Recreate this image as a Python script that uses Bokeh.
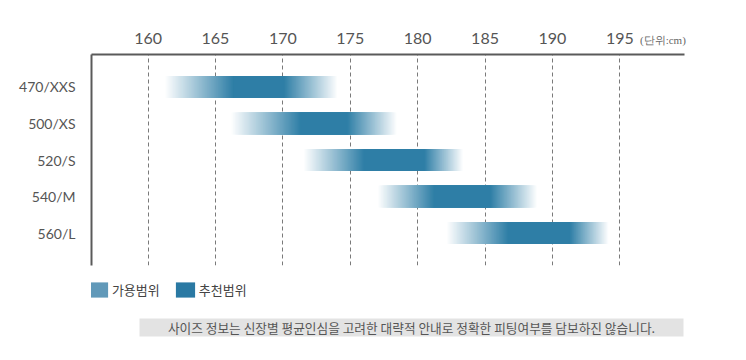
from bokeh.plotting import figure
from bokeh.models import (ColumnDataSource, FactorRange, Range1d, FixedTicker,
                          LinearAxis, Label, Legend, LegendItem)
from bokeh.layouts import column
from bokeh.embed import file_html
from bokeh.resources import INLINE

# ---------------- data ----------------
sizes = ["470/XXS", "500/XS", "520/S", "540/M", "560/L"]
avail_min = [161.2, 166.1, 171.5, 177.0, 182.1]   # 가용범위: faded outer ends
avail_max = [174.1, 178.5, 183.4, 188.9, 194.2]
rec_min = [166.3, 171.3, 176.0, 181.2, 186.7]     # 추천범위: full-colour core
rec_max = [170.1, 174.8, 180.5, 185.4, 191.3]
height_ticks = [160, 165, 170, 175, 180, 185, 190, 195]
legend_labels = ["가용범위", "추천범위"]
unit_text = "(단위:cm)"
unit_pos = 198.2
note_text = "사이즈 정보는 신장별 평균인심을 고려한 대략적 안내로 정확한 피팅여부를 담보하진 않습니다."

# ---------------- style ----------------
BAR_RGB = (46, 126, 166)
LIGHT = "#6199b9"
REC = "#2a79a3"
AXIS = "#5a5a5a"
TXT = "#555555"
W = 740
BAR_H = 0.6

# ---------------- main chart ----------------
p = figure(width=W, height=270, output_backend="svg", toolbar_location=None,
           x_range=Range1d(155.8, 199.8),
           y_range=FactorRange(factors=sizes[::-1], range_padding=0.156),
           x_axis_location="above",
           min_border_left=91, min_border_right=56, min_border_top=54, min_border_bottom=5)
p.outline_line_color = None

p.xaxis.ticker = FixedTicker(ticks=height_ticks)
p.xaxis.axis_line_width = 2
p.xaxis.axis_line_color = AXIS
p.xaxis.major_tick_line_color = None
p.xaxis.minor_tick_line_color = None
p.xaxis.major_label_text_font = "Lato"
p.xaxis.major_label_text_font_size = "16px"
p.xaxis.major_label_text_color = TXT
p.xaxis.major_label_standoff = 5

# unit caption as a second (outer) top axis, pulled down to the tick-label row
unit_axis = LinearAxis(ticker=FixedTicker(ticks=[unit_pos]),
                       major_label_overrides={unit_pos: unit_text},
                       axis_line_color=None, major_tick_line_color=None,
                       minor_tick_line_color=None,
                       major_label_text_font="Liberation Serif",
                       major_label_text_font_size="11px",
                       major_label_text_color="#666666",
                       major_label_standoff=-22)
p.add_layout(unit_axis, "above")

p.yaxis.axis_line_width = 2
p.yaxis.axis_line_color = AXIS
p.yaxis.major_tick_line_color = None
p.yaxis.minor_tick_line_color = None
p.yaxis.major_label_text_font = "Lato"
p.yaxis.major_label_text_font_size = "14px"
p.yaxis.major_label_text_color = TXT
p.yaxis.major_label_standoff = 10

p.xgrid.ticker = FixedTicker(ticks=height_ticks)
p.xgrid.grid_line_color = "#7a7a7a"
p.xgrid.grid_line_dash = "4 3"
p.xgrid.grid_line_width = 1
p.ygrid.grid_line_color = None

# nested opaque strips, drawn outermost (palest) first, ending with the solid
# 추천 core -> smooth linear fade out to the 가용 edges
N = 60
ys, ls, rs, cs = [], [], [], []
for k in range(1, N + 1):
    u = k / N
    col = "#%02x%02x%02x" % tuple(int(round(255 + u * (c - 255))) for c in BAR_RGB)
    for s, a0, a1, r0, r1 in zip(sizes, avail_min, avail_max, rec_min, rec_max):
        ys.append(s)
        ls.append(a0 + u * (r0 - a0))
        rs.append(a1 - u * (a1 - r1))
        cs.append(col)
src = ColumnDataSource(dict(y=ys, left=ls, right=rs, color=cs))
p.hbar(y="y", left="left", right="right", height=BAR_H, source=src,
       fill_color="color", line_color=None)

# ---------------- legend + note ----------------
# this figure's frame is aligned with the chart's frame (page x 91..684)
H2 = 86
p2 = figure(width=W, height=H2, output_backend="svg", toolbar_location=None,
            x_range=Range1d(91, 684), y_range=Range1d(H2, 0),
            x_axis_type=None, y_axis_type=None,
            min_border_left=91, min_border_right=56, min_border_top=0, min_border_bottom=0)
p2.outline_line_color = None
p2.grid.visible = False

# legend proxies (zero size, draw nothing themselves)
r_a = p2.hbar(y=[-1000], left=[100], right=[100], height=0, fill_color=LIGHT, line_color=None)
r_r = p2.hbar(y=[-1000], left=[100], right=[100], height=0, fill_color=REC, line_color=None)
legend = Legend(items=[LegendItem(label=legend_labels[0], renderers=[r_a]),
                       LegendItem(label=legend_labels[1], renderers=[r_r])],
                location=(-5.1, 57.4), orientation="horizontal",
                glyph_width=24, glyph_height=19, label_height=19,
                label_standoff=2, spacing=13, padding=0, margin=0,
                border_line_color=None, background_fill_alpha=0,
                label_text_font="Noto Sans CJK KR", label_text_font_size="13px",
                label_text_color="#444444")
p2.add_layout(legend)

note_left, note_right, note_mid, note_h = 139, 683, 57, 18
p2.hbar(y=[note_mid], left=[note_left], right=[note_right], height=note_h,
        fill_color="#e3e3e3", line_color=None)
p2.add_layout(Label(x=(note_left + note_right) / 2, y=note_mid,
                    text=note_text, text_font="Noto Sans CJK KR", text_font_size="12.7px",
                    text_color=TXT, text_align="center", text_baseline="middle"))

layout = column(p, p2, spacing=0)
open("out.html", "w").write(file_html(layout, INLINE))
